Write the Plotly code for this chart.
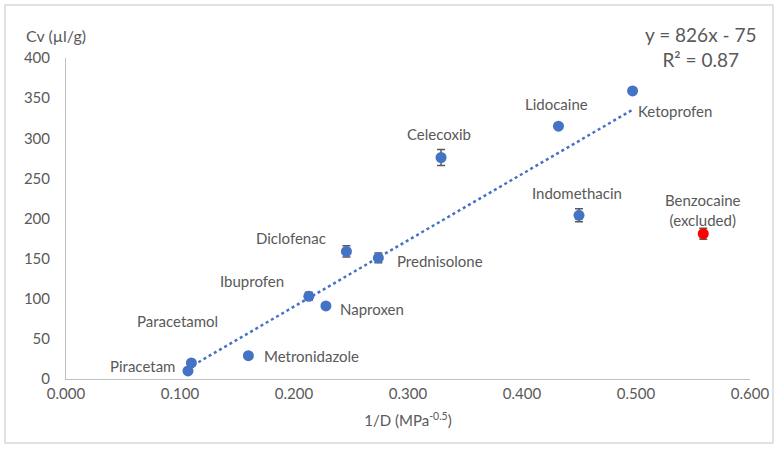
import plotly.graph_objects as go

# ---- data ----
drugs = ["Piracetam", "Paracetamol", "Metronidazole", "Ibuprofen", "Naproxen",
         "Diclofenac", "Prednisolone", "Celecoxib", "Lidocaine", "Indomethacin", "Ketoprofen"]
inv_d = [0.107, 0.110, 0.160, 0.213, 0.228, 0.246, 0.274, 0.329, 0.432, 0.450, 0.497]
cv = [10, 20, 29, 103, 91, 159, 151, 276, 315, 204, 359]
cv_err = [2, 2, 2, 5, 2, 7, 6, 10, 2, 8, 2]

excl_name = "Benzocaine<br>(excluded)"
excl_x = [0.559]
excl_y = [181]
excl_err = [7]

fit_slope = 826
fit_intercept = -75
fit_r2 = 0.87
fit_x = [min(inv_d), max(inv_d)]
fit_y = [fit_slope * v + fit_intercept for v in fit_x]

x_ticks = [0.0, 0.1, 0.2, 0.3, 0.4, 0.5, 0.6]
x_ticktext = ["0.000", "0.100", "0.200", "0.300", "0.400", "0.500", "0.600"]
y_ticks = [0, 50, 100, 150, 200, 250, 300, 350, 400]

# label placements (data coords, anchor)
label_pos = {
    "Piracetam": (0.067, 16, "center"),
    "Paracetamol": (0.098, 72, "center"),
    "Metronidazole": (0.172, 29, "left"),
    "Ibuprofen": (0.163, 122, "center"),
    "Naproxen": (0.239, 87, "left"),
    "Diclofenac": (0.197, 176, "center"),
    "Prednisolone": (0.289, 147, "left"),
    "Celecoxib": (0.327, 305, "center"),
    "Lidocaine": (0.430, 343, "center"),
    "Indomethacin": (0.448, 232, "center"),
    "Ketoprofen": (0.500, 334, "left"),
}

BLUE = "#4472C4"
GRAY = "#595959"
FONT = "Lato"
FS = 15

fig = go.Figure()

fig.add_trace(go.Scatter(
    x=fit_x, y=fit_y, mode="lines",
    line=dict(color=BLUE, width=2.5, dash="dot"),
    hoverinfo="skip", showlegend=False))

fig.add_trace(go.Scatter(
    x=inv_d, y=cv, mode="markers", text=drugs,
    marker=dict(color=BLUE, size=11),
    error_y=dict(type="data", array=cv_err, color=GRAY, thickness=1.5, width=4),
    showlegend=False))

fig.add_trace(go.Scatter(
    x=excl_x, y=excl_y, mode="markers",
    marker=dict(color="#FF0000", size=11),
    error_y=dict(type="data", array=excl_err, color=GRAY, thickness=1.5, width=4),
    showlegend=False))

for name in drugs:
    lx, ly, anc = label_pos[name]
    fig.add_annotation(x=lx, y=ly, xref="x", yref="y", text=name, showarrow=False,
                       xanchor=anc, yanchor="middle",
                       font=dict(family=FONT, size=FS, color=GRAY))

fig.add_annotation(x=0.559, y=211, xref="x", yref="y", text=excl_name, showarrow=False,
                   xanchor="center", yanchor="middle",
                   font=dict(family=FONT, size=FS, color=GRAY))

fig.add_annotation(x=0.927, y=1.034, xref="paper", yref="paper",
                   text=f"y = {fit_slope}x - {abs(fit_intercept)}<br>R² = {fit_r2}",
                   showarrow=False, xanchor="center", yanchor="middle", align="center",
                   font=dict(family=FONT, size=19, color=GRAY))

fig.add_annotation(x=-0.061, y=1.07, xref="paper", yref="paper", text="Cv (µl/g)",
                   showarrow=False, xanchor="left", yanchor="middle",
                   font=dict(family=FONT, size=16, color=GRAY))

fig.add_shape(type="rect", xref="paper", yref="paper",
              x0=-0.0892, x1=1.0336, y0=-0.199, y1=1.165,
              line=dict(color="#D9D9D9", width=1.5), fillcolor="rgba(0,0,0,0)", layer="below")

fig.update_layout(
    width=780, height=449,
    margin=dict(l=66, r=30, t=58, b=70),
    paper_bgcolor="white", plot_bgcolor="white",
    font=dict(family=FONT, color=GRAY, size=FS),
    xaxis=dict(range=[0, 0.6], tickvals=x_ticks, ticktext=x_ticktext,
               showgrid=False, zeroline=False, showline=True, linecolor="#BFBFBF", linewidth=1,
               ticks="", ticklabelstandoff=1, tickfont=dict(size=FS),
               title=dict(text="1/D (MPa<sup>-0.5</sup>)", font=dict(family=FONT, size=FS, color=GRAY), standoff=14)),
    yaxis=dict(range=[0, 400], tickvals=y_ticks,
               showgrid=False, zeroline=False, showline=True, linecolor="#BFBFBF", linewidth=1,
               ticks="", ticklabelstandoff=12, tickfont=dict(size=FS)),
)

fig.write_html("out.html")
